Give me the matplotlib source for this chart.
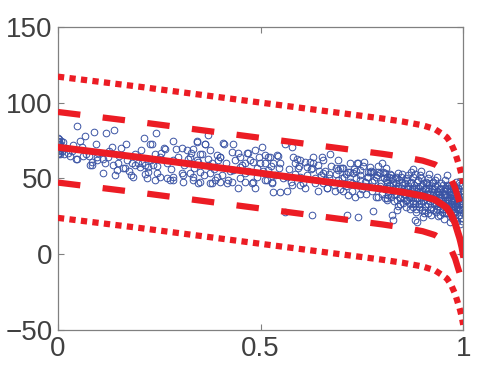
import matplotlib
matplotlib.use("Agg")
from matplotlib import pyplot as plt
import numpy as np

# fitted mean curve
curve_x = [0, 0.1, 0.2, 0.3, 0.4, 0.5, 0.6, 0.7, 0.8, 0.85, 0.9, 0.93, 0.95,
           0.96, 0.97, 0.975, 0.98, 0.984, 0.988, 0.991, 0.993, 0.997, 1.0]
curve_y = [70.6, 67.3, 64.0, 60.5, 57.0, 53.5, 50.0, 46.5, 43.0, 41.0, 38.5, 36.0,
           32.5, 30.5, 26.5, 23.5, 20.5, 17.0, 13.5, 11.0, 9.0, 4.5, 0.0]
band_sd = 23.3

# observations, left/middle part
obs_x = [0.0, 0.001, 0.002, 0.0, 0.003, 0.001, 0.004, 0.002, 0.0, 0.005, 0.001, 0.003,
         0.006, 0.002, 0.008, 0.004, 0.010, 0.007, 0.012, 0.015,
         0.047, 0.089, 0.119, 0.138, 0.054, 0.067, 0.095, 0.133, 0.168, 0.212, 0.242,
         0.227, 0.262, 0.284, 0.306, 0.343, 0.370, 0.363, 0.410, 0.432,
         0.047, 0.030, 0.079, 0.111, 0.141, 0.160, 0.185, 0.202, 0.222, 0.244, 0.284,
         0.306, 0.333, 0.350, 0.375, 0.392, 0.417, 0.432, 0.096, 0.124, 0.148, 0.183,
         0.326, 0.370, 0.400, 0.252, 0.284, 0.350, 0.449, 0.449,
         0.037, 0.025, 0.044, 0.062, 0.077, 0.084, 0.096, 0.116, 0.146, 0.165, 0.180,
         0.190, 0.198,
         0.232, 0.240, 0.264, 0.291, 0.318, 0.328, 0.333, 0.343, 0.363, 0.375, 0.392,
         0.400, 0.407, 0.343, 0.370, 0.350, 0.375, 0.388, 0.380, 0.400,
         0.207, 0.215, 0.235, 0.222, 0.220, 0.240, 0.252, 0.269, 0.277, 0.284,
         0.309, 0.326, 0.309, 0.333, 0.346,
         0.504, 0.560, 0.578, 0.652, 0.672, 0.741, 0.469, 0.519, 0.543, 0.499, 0.531,
         0.590, 0.622, 0.615, 0.696, 0.720, 0.778, 0.795, 0.840, 0.881, 0.911, 0.926,
         0.975, 0.837, 0.862, 0.812, 0.763, 0.654, 0.462, 0.481, 0.528, 0.565, 0.598,
         0.630,
         0.430, 0.444, 0.467, 0.486, 0.511, 0.523, 0.541, 0.548, 0.580, 0.585, 0.598,
         0.610, 0.593, 0.462, 0.481, 0.491, 0.511, 0.519,
         0.420, 0.430, 0.444, 0.462, 0.479, 0.486, 0.511, 0.528, 0.531, 0.548, 0.565,
         0.578, 0.598, 0.610,
         0.630, 0.654, 0.642, 0.627, 0.691, 0.704, 0.728, 0.746, 0.770, 0.790, 0.807,
         0.738, 0.770,
         0.635, 0.642, 0.664, 0.684, 0.704, 0.716, 0.733, 0.746, 0.790, 0.812,
         0.560, 0.627, 0.714, 0.741, 0.778, 0.825, 0.827, 0.886, 0.901, 0.881, 1.0,
         0.650, 0.655, 0.660, 0.665, 0.668, 0.675, 0.680, 0.685, 0.690, 0.695, 0.700,
         0.705, 0.710, 0.715, 0.720, 0.725, 0.730, 0.735, 0.740, 0.745, 0.750, 0.752,
         0.757, 0.760, 0.765, 0.768, 0.772, 0.775, 0.780, 0.785, 0.788, 0.792, 0.797,
         0.800, 0.803, 0.806, 0.810, 0.813, 0.816, 0.818, 0.690, 0.720, 0.755, 0.790,
         0.810, 0.800,
         0.02, 0.035, 0.06, 0.07, 0.085, 0.1, 0.11, 0.125, 0.135, 0.15, 0.155, 0.17,
         0.175, 0.19, 0.205, 0.215, 0.23, 0.245, 0.255, 0.27, 0.28, 0.295, 0.31, 0.32,
         0.335, 0.345, 0.355, 0.36, 0.38, 0.385, 0.395, 0.405, 0.415, 0.425, 0.438,
         0.45, 0.455, 0.47, 0.475, 0.49, 0.495, 0.505, 0.515, 0.525, 0.535, 0.545,
         0.555, 0.57, 0.575, 0.585, 0.595, 0.605, 0.615, 0.625, 0.635, 0.645, 0.66,
         0.67, 0.685, 0.7, 0.71, 0.725, 0.735, 0.745, 0.755, 0.765, 0.775, 0.785, 0.795]
obs_y = [75, 77, 76, 73, 74, 71, 72.5, 69, 70, 68, 66, 67,
         66, 73, 75, 70, 68, 71, 74, 66,
         84.5, 81, 80, 82, 75, 78, 72.5, 71, 73, 77, 80,
         72.5, 70, 74.6, 70, 74.6, 78.5, 73, 73, 72.6,
         62.7, 65, 58.7, 53.5, 52, 56.7, 51, 57.4, 57.4, 53.5, 49,
         53.5, 51, 47.5, 47, 51, 47, 55.4, 64, 64, 60, 60,
         64, 63, 64, 64, 62, 66, 64, 57.4,
         72, 66.7, 62.7, 65, 64.7, 58.7, 62, 60, 55.4, 56.7, 52,
         58.7, 60,
         72.6, 66, 69.3, 69.3, 68.6, 66.7, 69.3, 74, 72.6, 68.6, 65.3,
         64, 73.3, 62, 58.7, 54, 53.5, 49, 47, 47.5,
         60, 58.7, 58.7, 54, 50, 49, 51, 50, 49, 51,
         52, 53.5, 47.5, 49, 47,
         70.6, 72.6, 70.6, 64, 66, 60, 67, 64, 65, 60, 60,
         62.7, 60.7, 57.4, 56.7, 54, 54, 53.5, 53.5, 52.8, 47, 47.5,
         43.5, 50, 49, 51, 51, 53.5, 53.5, 47.5, 47, 51, 51,
         60,
         67.3, 66.7, 66.7, 68.6, 65.3, 64, 65.3, 60, 64, 60, 62,
         60.7, 56.7, 60, 60.7, 56.7, 60, 55.4,
         49, 47.5, 44, 47.5, 47, 43.5, 49, 47.5, 41, 41, 42,
         45.5, 45.5, 44,
         64, 62, 58.7, 56.7, 55.4, 56.7, 53.5, 55.4, 54, 54, 53.5,
         60, 57.4,
         47, 42, 44, 42, 42, 39, 37.6, 40, 37.6, 37,
         27.7, 25.7, 25.7, 24.4, 28.4, 25.7, 22.4, 21, 24.4, 22.4, 0,
         52, 47, 55, 44, 50, 58, 46, 53, 49, 43, 57,
         51, 45, 54, 48, 42, 56, 50, 46, 52, 43, 58,
         48, 40, 51, 45, 55, 42, 49, 38, 52, 44, 47,
         40, 54, 43, 49, 36, 46, 51, 62, 60, 61, 58,
         57, 60,
         70, 68, 71, 66, 61, 67, 63, 68, 59, 65, 70, 62,
         55, 66, 69, 53, 62, 58, 67, 60, 56, 64, 59, 63,
         57, 61, 66, 52, 60, 56, 62, 52, 60, 55, 62,
         50, 59, 55, 62, 51, 64, 55, 49, 58, 52, 57,
         50, 56, 48, 53, 58, 47, 52, 56, 50, 55, 49,
         53, 57, 50, 53, 47, 55, 49, 45, 54, 48, 51, 45]

# observations, dense part near x = 1
dense_x = [0.820, 0.822, 0.825, 0.828, 0.830, 0.833, 0.835, 0.838, 0.840, 0.842, 0.845,
           0.847, 0.850, 0.852, 0.855, 0.857, 0.860, 0.862, 0.864, 0.866, 0.868, 0.870,
           0.872, 0.874, 0.876, 0.878, 0.880, 0.882, 0.884, 0.886, 0.888, 0.890, 0.892,
           0.894, 0.896, 0.898, 0.900, 0.902, 0.904, 0.906, 0.908, 0.910, 0.912, 0.914,
           0.916, 0.918, 0.920, 0.922, 0.924, 0.926, 0.928, 0.930, 0.932, 0.934, 0.936,
           0.938, 0.940, 0.942, 0.944, 0.946, 0.948, 0.950, 0.952, 0.954, 0.956, 0.958,
           0.960, 0.962, 0.964, 0.966, 0.968, 0.970, 0.972, 0.974, 0.976, 0.978, 0.980,
           0.982, 0.984, 0.986, 0.988, 0.990, 0.992, 0.994, 0.996, 0.998, 0.999,
           0.823, 0.836, 0.849, 0.858, 0.871, 0.883, 0.893, 0.903, 0.913, 0.921, 0.931,
           0.939, 0.945, 0.953, 0.959, 0.967, 0.971, 0.979, 0.985, 0.991, 0.995, 0.997,
           0.943, 0.957, 0.963, 0.969, 0.975, 0.981, 0.987, 0.993, 0.941, 0.949, 0.955,
           0.961, 0.965, 0.973, 0.977, 0.983, 0.989, 0.927, 0.917, 0.907, 0.897, 0.887,
           0.877, 0.867, 0.853, 0.843, 0.831,
           0.805, 0.811, 0.815, 0.819, 0.826, 0.829, 0.834, 0.839, 0.844, 0.848, 0.851,
           0.856, 0.859, 0.863, 0.865, 0.869, 0.873, 0.875, 0.879, 0.881, 0.885, 0.889,
           0.891, 0.895, 0.899, 0.901, 0.905, 0.909, 0.911, 0.915, 0.919, 0.923, 0.925,
           0.929, 0.933, 0.935, 0.937, 0.940, 0.944, 0.947, 0.951, 0.952, 0.956, 0.958,
           0.962, 0.964, 0.966, 0.968, 0.970, 0.972, 0.974, 0.976, 0.978, 0.980, 0.982,
           0.984, 0.986, 0.988, 0.990, 0.992, 0.994, 0.996, 0.998, 0.999, 0.997, 0.993,
           0.989, 0.985, 0.981, 0.977, 0.973, 0.969, 0.963, 0.957, 0.951, 0.947, 0.942,
           0.936, 0.932, 0.926, 0.919, 0.912, 0.905, 0.898, 0.891, 0.884, 0.875, 0.869,
           0.861, 0.854, 0.846, 0.837, 0.827, 0.818, 0.812, 0.808, 0.955, 0.935, 0.915,
           0.895, 0.875, 0.960, 0.990, 0.983, 0.940]
dense_y = [45, 38, 50, 42, 35, 47, 40, 32, 44, 49, 37,
           41, 46, 34, 43, 39, 50, 36, 45, 41, 30, 48,
           38, 43, 35, 46, 40, 33, 44, 37, 49, 41, 31,
           45, 38, 42, 35, 47, 40, 29, 44, 36, 42, 33,
           46, 39, 31, 43, 37, 41, 34, 45, 28, 39, 42,
           32, 36, 44, 30, 38, 41, 34, 27, 40, 36, 31,
           43, 34, 38, 29, 41, 33, 25, 37, 31, 39, 28,
           34, 22, 36, 30, 26, 33, 24, 29, 35, 27,
           52, 29, 53, 31, 54, 28, 52, 27, 50, 26, 49,
           25, 47, 23, 46, 21, 45, 24, 42, 20, 38, 22,
           33, 39, 27, 35, 43, 32, 40, 30, 40, 30, 44,
           36, 32, 29, 35, 38, 33, 38, 35, 38, 34, 42,
           31, 38, 40, 33, 44,
           50, 44, 39, 53, 47, 40, 51, 45, 38, 48, 42,
           47, 36, 52, 43, 47, 40, 51, 43, 37, 48, 44,
           36, 50, 46, 39, 43, 48, 40, 44, 37, 47, 40,
           43, 36, 46, 41, 38, 43, 35, 46, 39, 42, 34,
           45, 41, 36, 44, 39, 33, 46, 40, 36, 43, 38,
           31, 44, 40, 37, 42, 34, 40, 45, 38, 31, 46,
           29, 33, 26, 28, 24, 30, 32, 27, 30, 28, 26,
           30, 33, 29, 30, 27, 32, 29, 33, 30, 34, 33,
           44, 37, 51, 36, 46, 42, 48, 37, 49, 51, 53,
           55, 56, 52, 47, 48, 34]

red = '#ec1c24'
blue = '#3a53a4'

plt.rcParams['font.family'] = ['Liberation Sans', 'DejaVu Sans']

fig = plt.figure(figsize=(4.79, 3.8), dpi=100)
ax = fig.add_axes([0.121, 0.1316, 0.846, 0.7974])

ax.plot(obs_x + dense_x, obs_y + dense_y, 'o', mfc='none', mec=blue, ms=4.8,
        mew=0.7, zorder=2)

cx = np.array(curve_x)
cy = np.array(curve_y)
for k in (1, -1):
    ax.plot(cx, cy + k * 2 * band_sd, color=red, lw=4.5, dashes=(1.0, 0.85),
            dash_capstyle='butt', zorder=3)
    ax.plot(cx, cy + k * band_sd, color=red, lw=4.5, dashes=(3.6, 3.6),
            dash_capstyle='butt', zorder=3)
ax.plot(cx, cy, color=red, lw=5, zorder=4)

ax.set_xlim(0, 1)
ax.set_ylim(-50, 150)
ax.set_xticks([0, 0.5, 1])
ax.set_xticklabels(['0', '0.5', '1'])
ax.set_yticks([-50, 0, 50, 100, 150])

for s in ax.spines.values():
    s.set_color('#808080')
    s.set_linewidth(0.9)
ax.tick_params(direction='in', length=4, width=0.8, color='#808080',
               labelcolor='#404040', labelsize=20, top=True, right=True, pad=4)

plt.savefig('out.png', dpi=100)
